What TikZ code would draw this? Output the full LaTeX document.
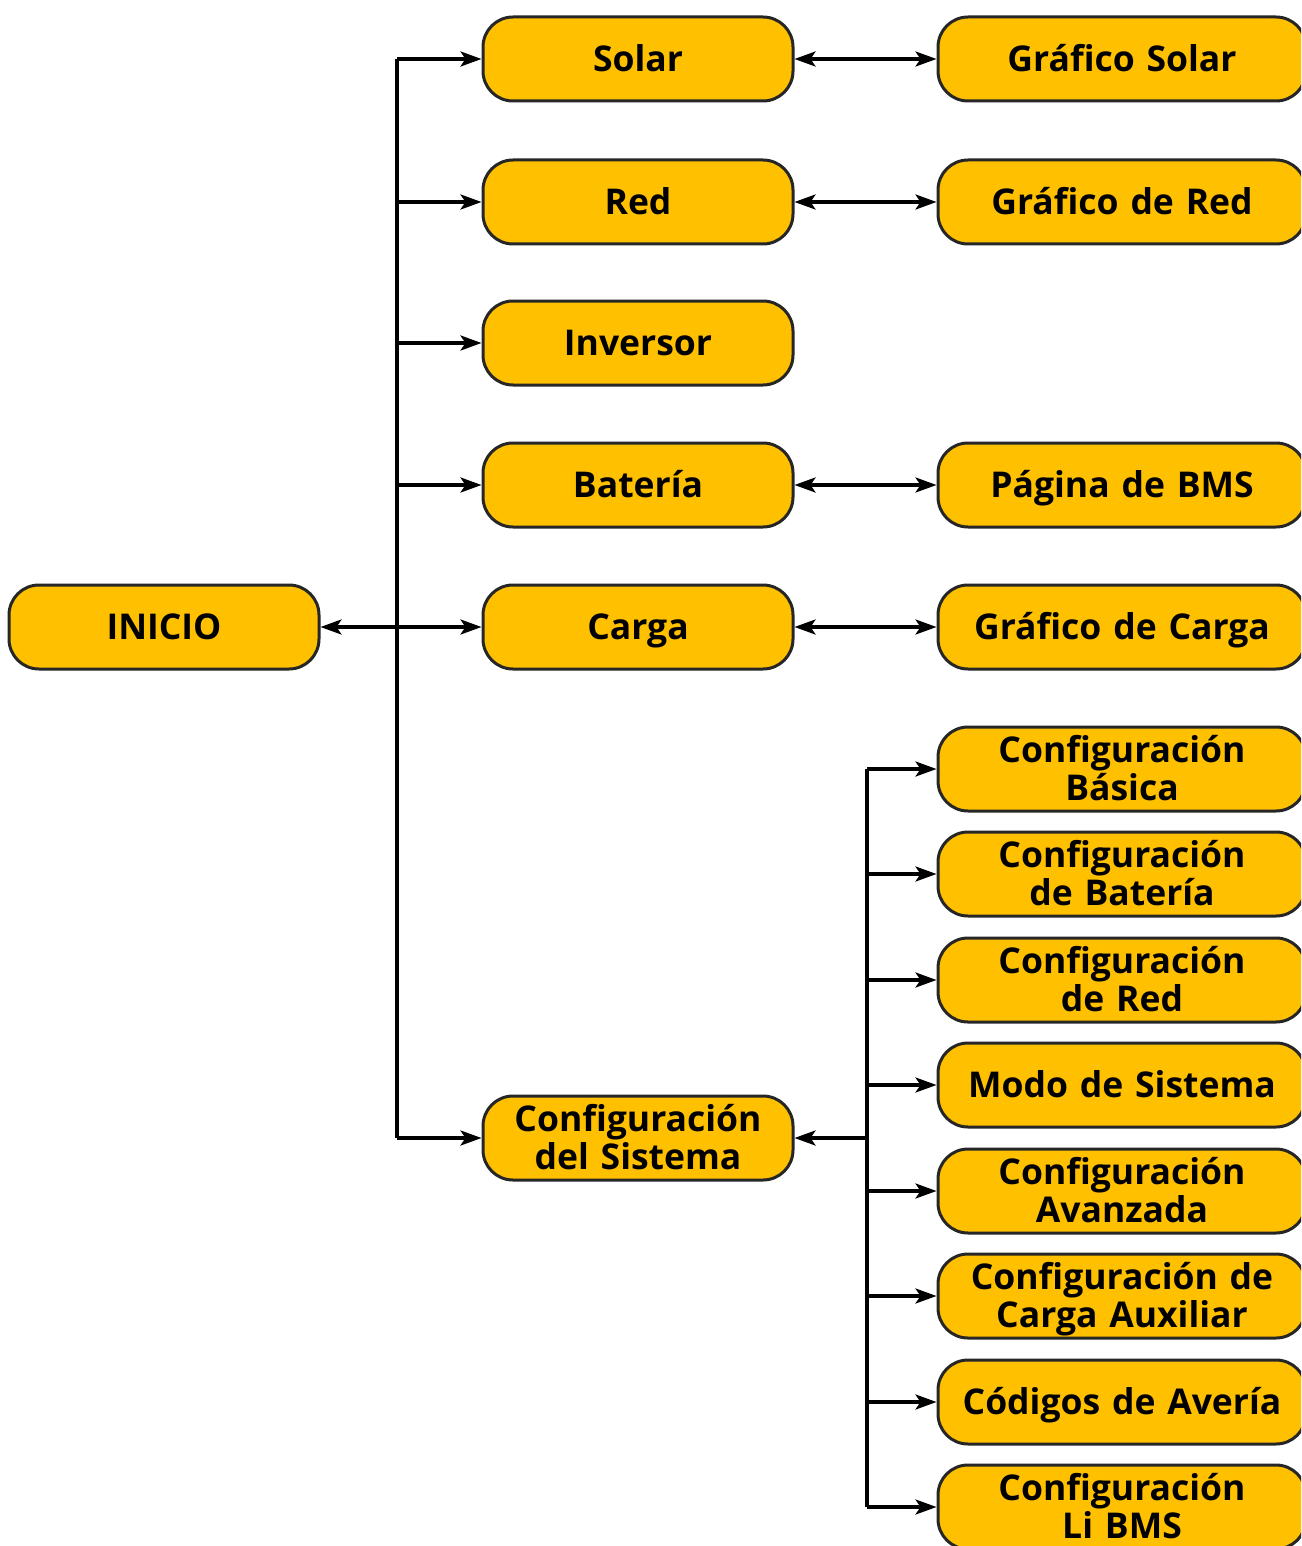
\documentclass[tikz,border=0pt]{standalone}
\usepackage{fontspec}
\setmainfont{Open Sans}
\usetikzlibrary{arrows.meta}
\begin{document}
\begin{tikzpicture}[x=1pt,y=-1pt,
  box/.style={draw=black!85,line width=3pt,fill=boxfill,rounded corners=30pt,
    minimum height=84pt,inner sep=0pt,align=center,
    font=\fontsize{35.5}{38}\selectfont\bfseries,
    execute at begin node={\rule{0pt}{0.95em}},
    execute at end node={\rule[-0.24em]{0pt}{0.24em}}},
  mid/.style={box,minimum width=310pt,text width=300pt},
  rt/.style={box,minimum width=368pt,text width=360pt},
  conn/.style={line width=3.2pt,draw=black},
  tip/.tip={Stealth[length=21pt,width=15pt,inset=5pt]},
  arr/.style={conn,-tip},
  barr/.style={conn,tip-tip}]
\definecolor{boxfill}{RGB}{255,192,0}
\useasboundingbox (0,0) rectangle (1301,1546);
\clip (0,0) rectangle (1301,1546);
\node[mid] (inicio) at (164,627) {INICIO};
\node[mid] (solar) at (638,59) {Solar};
\node[mid] (red) at (638,202) {Red};
\node[mid] (inv) at (638,343) {Inversor};
\node[mid] (bat) at (638,485) {Batería};
\node[mid] (carga) at (638,627) {Carga};
\node[mid] (conf) at (638,1138) {Configuración\\del Sistema};
\node[rt] (gsolar) at (1122,59) {Gráfico Solar};
\node[rt] (gred) at (1122,202) {Gráfico de Red};
\node[rt] (bms) at (1122,485) {Página de BMS};
\node[rt] (gcarga) at (1122,627) {Gráfico de Carga};
\node[rt] (c1) at (1122,769) {Configuración\\Básica};
\node[rt] (c2) at (1122,874) {Configuración\\de Batería};
\node[rt] (c3) at (1122,980) {Configuración\\de Red};
\node[rt] (c4) at (1122,1085) {Modo de Sistema};
\node[rt] (c5) at (1122,1191) {Configuración\\Avanzada};
\node[rt] (c6) at (1122,1296) {Configuración de\\Carga Auxiliar};
\node[rt] (c7) at (1122,1402) {Códigos de Avería};
\node[rt] (c8) at (1122,1507) {Configuración\\Li BMS};
\coordinate (t1) at (397,59);
\coordinate (t2) at (397,1138);
\coordinate (j) at (397,627);
\coordinate (s1) at (867,769);
\coordinate (s2) at (867,1507);
\coordinate (k) at (867,1138);
\draw[conn] (t1) -- (t2);
\draw[conn] (s1) -- (s2);
\draw[arr] (j) -- (inicio.east);
\foreach \n in {solar,red,inv,bat,carga,conf}
  \draw[arr] (j |- \n.west) -- (\n.west);
\draw[barr] (solar.east) -- (gsolar.west);
\draw[barr] (red.east) -- (gred.west);
\draw[barr] (bat.east) -- (bms.west);
\draw[barr] (carga.east) -- (gcarga.west);
\draw[arr] (k) -- (conf.east);
\foreach \n in {c1,c2,c3,c4,c5,c6,c7,c8}
  \draw[arr] (k |- \n.west) -- (\n.west);
\end{tikzpicture}
\end{document}
